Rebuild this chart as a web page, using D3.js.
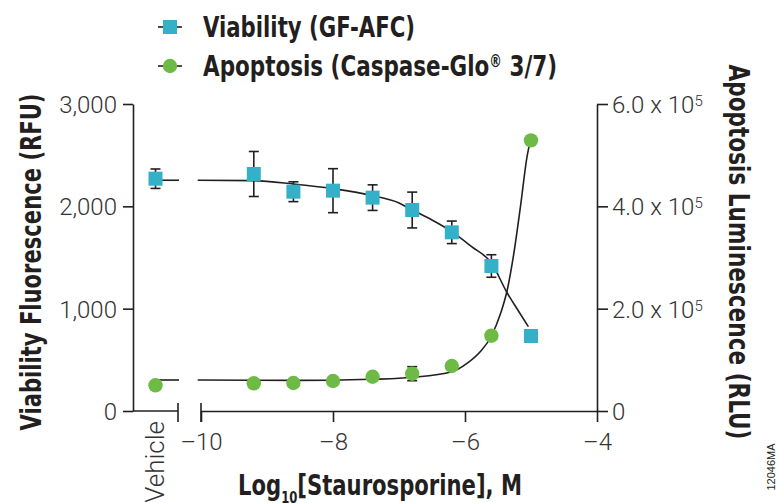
<!DOCTYPE html>
<html>
<head>
<meta charset="utf-8">
<script src="https://cdn.jsdelivr.net/npm/d3@7"></script>
<style>
    body { margin: 0; background: #fff; }
    svg { display: block; }
    .tick-label { font-family: Roboto, "Liberation Sans", sans-serif; font-weight: 300; font-size: 24px; fill: #333; }
    .title { font-family: "Liberation Sans Narrow", "DejaVu Sans Condensed", "Liberation Sans", sans-serif; font-weight: bold; fill: #231f20; }
    .axis path, .axis line, .plain { stroke: #231f20; stroke-width: 1.6; fill: none; }
</style>
</head>
<body>
<svg id="chart" width="778" height="503"></svg>
<script>
// data
var log_conc = [-9.2, -8.6, -8.0, -7.4, -6.8, -6.2, -5.6, -5.0];
var viability = [2316, 2143, 2153, 2085, 1964, 1746, 1417, 733];
var viability_err = [220, 97, 215, 125, 175, 110, 110, 0];
var apoptosis = [54100, 54700, 58600, 67000, 72900, 87900, 147200, 529000];
var apoptosis_err = [0, 0, 0, 0, 13700, 0, 0, 4000];
var vehicle_viability = 2270, vehicle_viability_err = 95;
var vehicle_apoptosis = 50200;

// fitted curves
var viability_fit_x = [-10.05, -9.2, -8.6, -8.0, -7.4, -7.0, -6.8, -6.5, -6.2, -5.9, -5.6, -5.36, -5.2, -5.04];
var viability_fit_y = [2255, 2251, 2218, 2172, 2104, 2033, 1964, 1867, 1753, 1606, 1446, 1153, 987, 824];
var apoptosis_fit_x = [-10.05, -9.2, -8.6, -8.0, -7.4, -7.0, -6.8, -6.2, -5.97, -5.77, -5.6, -5.46, -5.36, -5.26, -5.16, -5.06, -5.01];
var apoptosis_fit_y = [60600, 60000, 59800, 60200, 62000, 63900, 65900, 76800, 93200, 115900, 146600, 190900, 236500, 308200, 399300, 497000, 529000];
var viability_plateau = 2255, apoptosis_plateau = 60600;

var x_ticks = [-10, -8, -6, -4];
var left_ticks = [0, 1000, 2000, 3000];
var right_ticks = [0, 2e5, 4e5, 6e5];

var blue = "#35b0c9", green = "#6dbb45";

var svg = d3.select("#chart");
var plot = {left: 133, right: 597, top: 104, bottom: 411};

var x = d3.scaleLinear().domain([-10, -4]).range([201, plot.right]);
var xv = d3.scalePoint().domain(["Vehicle"]).range([plot.left, 178]).padding(0.5);
var yL = d3.scaleLinear().domain([0, 3000]).range([plot.bottom, plot.top]);
var yR = d3.scaleLinear().domain([0, 6e5]).range([plot.bottom, plot.top]);

// left axis
var gL = svg.append("g").attr("class", "axis").attr("transform", "translate(" + plot.left + ",0)")
    .call(d3.axisLeft(yL).tickValues(left_ticks).tickSize(10).tickSizeOuter(0).tickFormat(d3.format(",")));
gL.selectAll("text").attr("class", "tick-label").attr("x", -16).attr("dy", "0.35em").style("font", null);

// right axis
var gR = svg.append("g").attr("class", "axis").attr("transform", "translate(" + plot.right + ",0)")
    .call(d3.axisRight(yR).tickValues(right_ticks).tickSize(11).tickSizeOuter(0).tickFormat(""));
gR.selectAll(".tick").append("text").attr("class", "tick-label").attr("x", 15).attr("dy", "0.35em")
    .each(function (d) {
        var t = d3.select(this);
        if (d === 0) { t.text("0"); return; }
        t.append("tspan").text((d / 1e5).toFixed(1) + " x 10");
        t.append("tspan").attr("dy", "-0.45em").style("font-size", "15px").text("5");
    });

// bottom axis, main part
var gX = svg.append("g").attr("class", "axis").attr("transform", "translate(0," + plot.bottom + ")")
    .call(d3.axisBottom(x).tickValues(x_ticks).tickSize(11).tickSizeOuter(0)
        .tickFormat(function (d) { return "\u2013" + Math.abs(d); }));
gX.selectAll("text").attr("class", "tick-label").attr("y", 39).attr("dy", 0).style("font", null);

// bottom axis, vehicle part and break ticks
svg.append("line").attr("class", "plain")
    .attr("x1", plot.left).attr("x2", 178).attr("y1", plot.bottom).attr("y2", plot.bottom);
[178, x(-10)].forEach(function (bx) {
    svg.append("line").attr("class", "plain")
        .attr("x1", bx).attr("x2", bx).attr("y1", plot.bottom - 8).attr("y2", plot.bottom + 11);
});
svg.append("text").attr("class", "tick-label").style("font-size", "26px")
    .attr("transform", "translate(" + (xv("Vehicle") + 8) + "," + (plot.bottom + 10) + ") rotate(-90)")
    .attr("text-anchor", "end").text("Vehicle");

// fit lines
var line = d3.line().curve(d3.curveMonotoneX);
svg.append("path").attr("class", "plain").attr("stroke-width", 1.5)
    .attr("d", line(viability_fit_x.map(function (v, i) { return [x(v), yL(viability_fit_y[i])]; })));
svg.append("path").attr("class", "plain").attr("stroke-width", 1.5)
    .attr("d", line(apoptosis_fit_x.map(function (v, i) { return [x(v), yR(apoptosis_fit_y[i])]; })));
svg.append("line").attr("class", "plain").attr("stroke-width", 1.5)
    .attr("x1", xv("Vehicle")).attr("x2", 179).attr("y1", yL(viability_plateau)).attr("y2", yL(viability_plateau));
svg.append("line").attr("class", "plain").attr("stroke-width", 1.5)
    .attr("x1", xv("Vehicle")).attr("x2", 179).attr("y1", yR(apoptosis_plateau)).attr("y2", yR(apoptosis_plateau));

// error bars
function errorBar(cx, ylo, yhi) {
    if (Math.abs(ylo - yhi) < 1) return;
    var g = svg.append("g").attr("class", "plain");
    g.append("line").attr("x1", cx).attr("x2", cx).attr("y1", ylo).attr("y2", yhi).attr("class", "plain");
    g.append("line").attr("x1", cx - 5).attr("x2", cx + 5).attr("y1", ylo).attr("y2", ylo).attr("class", "plain");
    g.append("line").attr("x1", cx - 5).attr("x2", cx + 5).attr("y1", yhi).attr("y2", yhi).attr("class", "plain");
}
errorBar(xv("Vehicle"), yL(vehicle_viability - vehicle_viability_err), yL(vehicle_viability + vehicle_viability_err));
log_conc.forEach(function (c, i) {
    errorBar(x(c), yL(viability[i] - viability_err[i]), yL(viability[i] + viability_err[i]));
    errorBar(x(c), yR(apoptosis[i] - apoptosis_err[i]), yR(apoptosis[i] + apoptosis_err[i]));
});

// markers
var sq = 14, r = 7.2;
function square(cx, cy) {
    svg.append("rect").attr("x", cx - sq / 2).attr("y", cy - sq / 2).attr("width", sq).attr("height", sq).attr("fill", blue);
}
function dot(cx, cy) {
    svg.append("circle").attr("cx", cx).attr("cy", cy).attr("r", r).attr("fill", green);
}
square(xv("Vehicle"), yL(vehicle_viability));
dot(xv("Vehicle"), yR(vehicle_apoptosis));
log_conc.forEach(function (c, i) {
    square(x(c), yL(viability[i]));
    dot(x(c), yR(apoptosis[i]));
});

// legend
var legend = [
    {label: "Viability (GF-AFC)", y: 27, len: 212, mark: "square"},
    {label: "Apoptosis (Caspase-Glo", sup: "\u00ae", rest: " 3/7)", y: 66, len: 354, mark: "dot"}
];
legend.forEach(function (d) {
    svg.append("line").attr("class", "plain").attr("x1", 158).attr("x2", 182).attr("y1", d.y).attr("y2", d.y);
    if (d.mark === "square") square(170, d.y); else dot(170, d.y);
    var t = svg.append("text").attr("class", "title").attr("x", 203).attr("y", d.y + 10).style("font-size", "29px")
        .attr("textLength", d.len).attr("lengthAdjust", "spacingAndGlyphs");
    t.append("tspan").text(d.label);
    if (d.sup) {
        t.append("tspan").attr("dy", -9).style("font-size", "17px").text(d.sup);
        t.append("tspan").attr("dy", 9).text(d.rest);
    }
});

// axis titles
svg.append("text").attr("class", "title").style("font-size", "29px")
    .attr("transform", "translate(41,262) rotate(-90)").attr("text-anchor", "middle")
    .attr("textLength", 337).attr("lengthAdjust", "spacingAndGlyphs")
    .text("Viability Fluorescence (RFU)");
svg.append("text").attr("class", "title").style("font-size", "29px")
    .attr("transform", "translate(729,252) rotate(90)").attr("text-anchor", "middle")
    .attr("textLength", 375).attr("lengthAdjust", "spacingAndGlyphs")
    .text("Apoptosis Luminescence (RLU)");

var xt = svg.append("text").attr("class", "title").style("font-size", "29px")
    .attr("x", 238).attr("y", 495).attr("textLength", 284).attr("lengthAdjust", "spacingAndGlyphs");
xt.append("tspan").text("Log");
xt.append("tspan").attr("dy", 8).style("font-size", "16px").text("10");
xt.append("tspan").attr("dy", -8).text("[Staurosporine], M");

svg.append("text").attr("transform", "translate(775,467) rotate(-90)").attr("text-anchor", "middle")
    .style("font-family", "Liberation Sans, sans-serif").style("font-size", "11px").attr("fill", "#231f20")
    .text("12046MA");
</script>
</body>
</html>
